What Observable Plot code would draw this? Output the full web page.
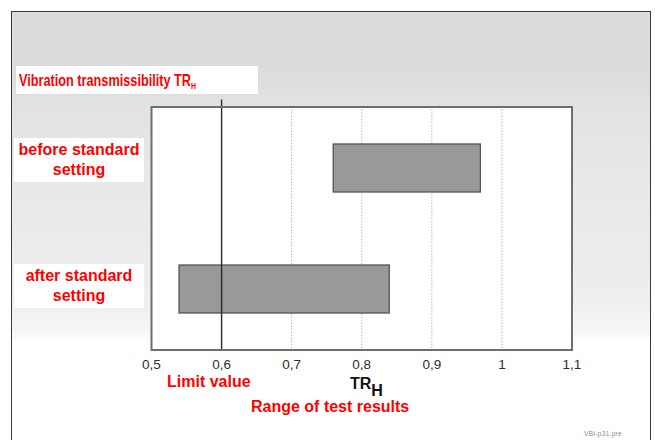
<!DOCTYPE html>
<html>
<head>
<meta charset="utf-8">
<script src="https://cdn.jsdelivr.net/npm/d3@7"></script>
<script src="https://cdn.jsdelivr.net/npm/@observablehq/plot@0.6"></script>
<style>
  html, body { margin: 0; padding: 0; background: #fff; }
  #wrap { position: relative; width: 655px; height: 440px; overflow: hidden; font-family: "Liberation Sans", Arial, sans-serif; }
  #bg { position: absolute; left: 11px; top: 11px; width: 638px; height: 440px;
        border: 1.6px solid #3a3a3a; border-bottom: none;
        background: linear-gradient(to bottom, #dcdcdc 0px, #dcdcdc 62px, #e2e2e2 92px, #e9e9e9 180px, #eeeeee 280px, #f5f5f5 318px, #ffffff 332px); }
  #chart { position: absolute; left: 0; top: 0; }
  .lbl { position: absolute; color: #ff0000; font-weight: bold; font-size: 16px; white-space: nowrap; }
  .box { background: #fff; }
  .cat { text-align: center; line-height: 20px; width: 130px; height: 44px; box-sizing: border-box; padding-top: 2px; }
</style>
</head>
<body>
<div id="wrap">
  <div id="bg"></div>
  <div id="chart"></div>
  <div id="labels"></div>
</div>
<script>
// ---- data ----
const categories = ["before standard setting", "after standard setting"];
const rangeLow  = [0.76, 0.54];
const rangeHigh = [0.97, 0.84];
const limitValue = [0.6];
const gridValues = [0.7, 0.8, 0.9, 1.0];
const tickValues = [0.5, 0.6, 0.7, 0.8, 0.9, 1.0, 1.1];
const tickLabels = ["0,5", "0,6", "0,7", "0,8", "0,9", "1", "1,1"];
const titleText = "Vibration transmissibility TR";
const categoryLines = [["before standard", "setting"], ["after standard", "setting"]];
const limitLabel = "Limit value";
const rangeLabel = "Range of test results";
const axisLabel = "TR";
const subscript = "H";
const sourceNote = "VBI-p31.pre";

const rows = categories.map((c, i) => ({cat: c, lo: rangeLow[i], hi: rangeHigh[i]}));

const plot = Plot.plot({
  width: 655,
  height: 440,
  marginLeft: 151,
  marginRight: 83.5,
  marginTop: 106.5,
  marginBottom: 90.5,
  style: {background: "transparent", fontFamily: "Liberation Sans, Arial, sans-serif", overflow: "visible"},
  x: {domain: [0.5, 1.1]},
  y: {domain: categories, range: [143.3, 313.3], paddingInner: 0.6, paddingOuter: 0, axis: null},
  marks: [
    Plot.frame({fill: "#ffffff", stroke: "none"}),
    Plot.ruleX(gridValues, {stroke: "#b8b8b8", strokeWidth: 1, strokeDasharray: "1.5,1.5"}),
    Plot.barX(rows, {x1: "lo", x2: "hi", y: "cat", fill: "#999999", stroke: "#555", strokeWidth: 1.3}),
    Plot.ruleX(limitValue, {stroke: "#2a2a2a", strokeWidth: 1.4, insetTop: -7}),
    Plot.frame({stroke: "#6e6e6e", strokeWidth: 2}),
    Plot.axisX({ticks: tickValues, tickFormat: (d) => tickLabels[tickValues.indexOf(+d.toFixed(1))], tickSize: 0, tickPadding: 9, fontSize: 13.5, fill: "#2e2e2e", label: null})
  ]
});
document.getElementById("chart").appendChild(plot);

// ---- text annotations ----
const L = document.getElementById("labels");
function add(html, css, cls) {
  const d = document.createElement("div");
  d.className = "lbl " + (cls || "");
  d.innerHTML = html;
  Object.assign(d.style, css);
  L.appendChild(d);
  return d;
}
add(`<span style="display:inline-block;transform:scaleX(0.77);transform-origin:0 50%;font-size:16.5px;">${titleText}<span style="font-size:9px;position:relative;top:3px;">${subscript}</span></span>`,
    {left: "16px", top: "66px", width: "242px", height: "28px", lineHeight: "28px", paddingLeft: "3px", boxSizing: "border-box"}, "box");
add(categoryLines[0].join("<br>"), {left: "14px", top: "138px"}, "box cat");
add(categoryLines[1].join("<br>"), {left: "14px", top: "264px"}, "box cat");
add(limitLabel, {left: "167px", top: "373px"});
add(rangeLabel, {left: "251px", top: "398px"});
add(`${axisLabel}<span style="position:relative;top:7px;">${subscript}</span>`,
    {left: "350px", top: "376px", lineHeight: "16px", color: "#111", fontSize: "16px"});
add(sourceNote, {left: "584px", top: "430px", color: "#8a8a8a", fontSize: "6.5px", fontWeight: "normal", letterSpacing: "0.3px"});
</script>
</body>
</html>
